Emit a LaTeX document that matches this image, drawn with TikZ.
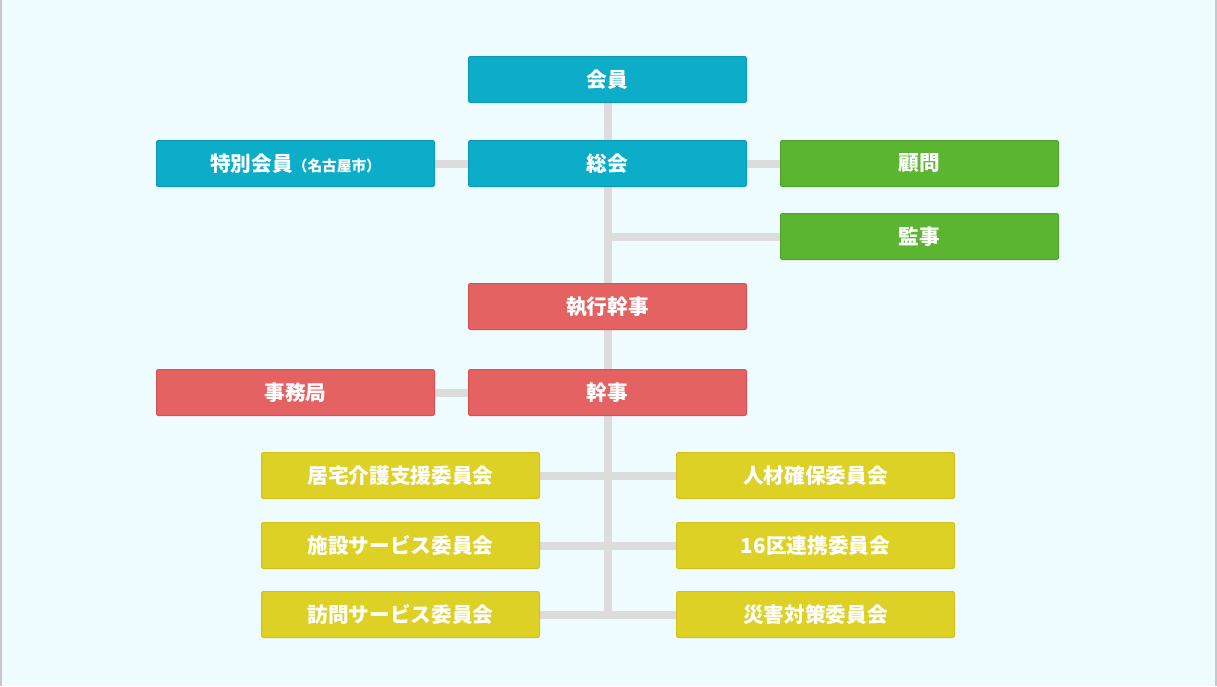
\documentclass[tikz,border=0pt]{standalone}
\usepackage{fontspec}
\newfontfamily\jp{Noto Sans CJK JP}
\usetikzlibrary{backgrounds}
\definecolor{bgc}{HTML}{EEFCFF}
\definecolor{edgec}{HTML}{C8C8C8}
\definecolor{linec}{HTML}{DCDCDC}
\definecolor{cyanf}{HTML}{0BADC9}
\definecolor{cyand}{HTML}{0A9CB6}
\definecolor{greenf}{HTML}{5BB531}
\definecolor{greend}{HTML}{4FA429}
\definecolor{redf}{HTML}{E56262}
\definecolor{redd}{HTML}{D55252}
\definecolor{yelf}{HTML}{DDD126}
\definecolor{yeld}{HTML}{CFC31B}
\tikzset{
  box/.style={draw, line width=0.75pt, rounded corners=1.5pt, minimum width=208.5pt, minimum height=34.5pt, inner sep=0pt, text=white, font=\jp\bfseries\fontsize{15.5}{18}\selectfont},
  bcyan/.style={box, fill=cyanf, draw=cyand},
  bgreen/.style={box, fill=greenf, draw=greend},
  bred/.style={box, fill=redf, draw=redd},
  byel/.style={box, fill=yelf, draw=yeld},
  conn/.style={draw=linec, line width=6pt},
}
\begin{document}
\begin{tikzpicture}[x=0.75pt, y=-0.75pt]
\useasboundingbox (0,0) rectangle (1217,686);

\node[bcyan] (kaiin) at (607.5,79.5) {会員};
\node[bcyan] (sokai) at (607.5,163.5) {総会};
\node[bcyan] (tokubetsu) at (295.5,163.5) {特別会員{\fontsize{11}{13}\selectfont（名古屋市）}};
\node[bgreen] (komon) at (919.5,163.5) {顧問};
\node[bgreen] (kansa) at (919.5,236.5) {監事};
\node[bred] (shikko) at (607.5,306.5) {執行幹事};
\node[bred] (jimu) at (295.5,392.5) {事務局};
\node[bred] (kanji) at (607.5,392.5) {幹事};
\node[byel] (y1l) at (400.5,475.5) {居宅介護支援委員会};
\node[byel] (y2l) at (400.5,545.5) {施設サービス委員会};
\node[byel] (y3l) at (400.5,614.5) {訪問サービス委員会};
\node[byel] (y1r) at (815.5,475.5) {人材確保委員会};
\node[byel] (y2r) at (815.5,545.5) {16区連携委員会};
\node[byel] (y3r) at (815.5,614.5) {災害対策委員会};
\coordinate (bot) at (607.5,619);

\begin{scope}[on background layer]
\fill[bgc] (0,0) rectangle (1217,686);
\fill[edgec] (0,0) rectangle (2,686);
\fill[edgec] (1215,0) rectangle (1217,686);
\draw[conn] (kaiin.south) -- (bot);
\draw[conn] (tokubetsu.east) -- (sokai.west);
\draw[conn] (sokai.east) -- (komon.west);
\draw[conn] (kansa.west) -- (kansa.west -| kaiin.south);
\draw[conn] (jimu.east) -- (kanji.west);
\draw[conn] (y1l.east) -- (y1r.west);
\draw[conn] (y2l.east) -- (y2r.west);
\draw[conn] (y3l.east) -- (y3r.west);
\end{scope}
\end{tikzpicture}
\end{document}
